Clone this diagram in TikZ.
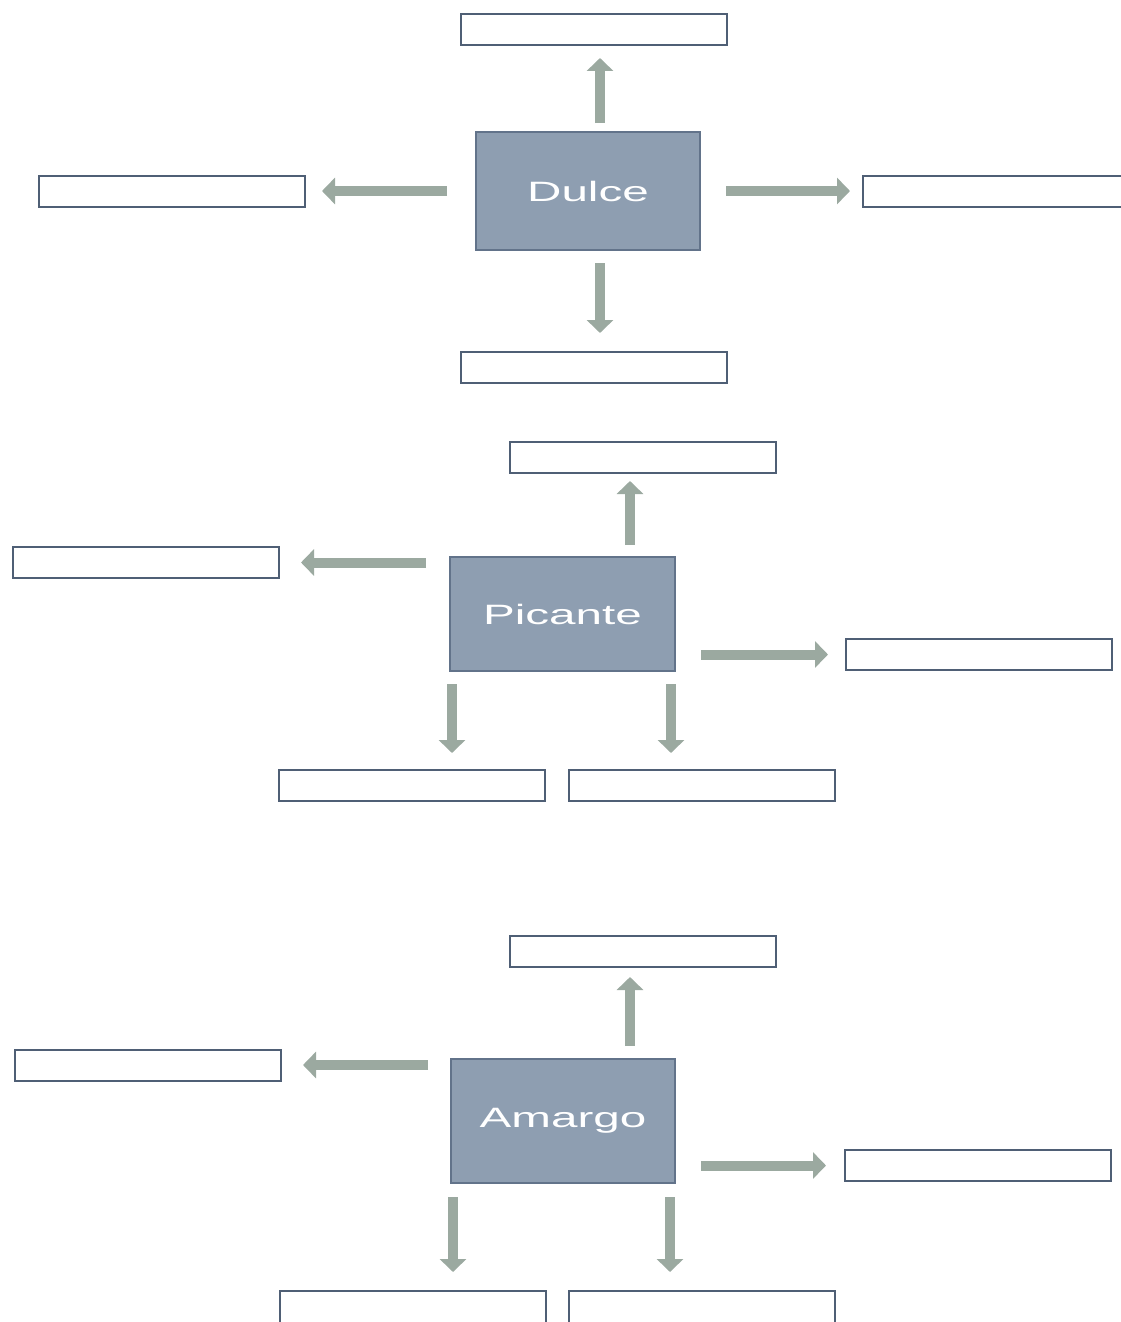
\documentclass[tikz,border=0pt]{standalone}
\usepackage{fontspec}
\newfontfamily\boxfont[FakeStretch=1.7]{Liberation Sans}
\usetikzlibrary{arrows.meta,positioning}

\definecolor{tastefill}{HTML}{8E9EB1}
\definecolor{tasteline}{HTML}{62738A}
\definecolor{slotline}{HTML}{4F5F75}
\definecolor{arrowgreen}{HTML}{9BA9A0}

\begin{document}
\begin{tikzpicture}[
  x=1pt, y=-1pt,
  taste/.style={draw=tasteline, fill=tastefill, line width=2pt, inner sep=0pt, outer sep=0pt,
                text=white, font=\boxfont\fontsize{28}{32}\selectfont},
  slot/.style={draw=slotline, fill=white, line width=2pt, inner sep=0pt, outer sep=0pt,
               minimum width=266pt, minimum height=31pt},
  arr/.style={draw=arrowgreen, line width=10pt, -{Triangle[width=26pt,length=13pt]}},
]
\useasboundingbox (0,0) rectangle (1121,1322);

% ---- Dulce -------------------------------------------------------------------
\node[taste, minimum width=224pt, minimum height=118pt] (dulce) at (588,191) {Dulce};
\node[slot, above=87pt of dulce, xshift=6pt]  (dN) {};
\node[slot, left=171pt of dulce]              (dW) {};
\node[slot, right=163pt of dulce]             (dE) {};
\node[slot, below=102pt of dulce, xshift=6pt] (dS) {};

\draw[arr, shorten <=9pt,  shorten >=13pt] ([xshift=12pt]dulce.north) -- ([xshift=6pt]dN.south);
\draw[arr, shorten <=29pt, shorten >=17pt] (dulce.west) -- (dW.east);
\draw[arr, shorten <=26pt, shorten >=13pt] (dulce.east) -- (dulce.east -| dE.west);
\draw[arr, shorten <=13pt, shorten >=19pt] ([xshift=12pt]dulce.south) -- ([xshift=6pt]dS.north);

% ---- Picante -----------------------------------------------------------------
\node[taste, minimum width=225pt, minimum height=114pt] (picante) at (562.5,614) {Picante};
\node[slot, above=84pt of picante, xshift=80pt]     (pN)  {};
\node[slot, left=171pt of picante, yshift=51.5pt]   (pW)  {};
\node[slot, right=171pt of picante, yshift=-40.5pt] (pE)  {};
\node[slot, below=99pt of picante, xshift=-151pt]   (pSW) {};
\node[slot, below=99pt of picante, xshift=139pt]    (pSE) {};

\coordinate (pdl) at ([xshift=2pt]picante.south west);
\coordinate (pdr) at ([xshift=-4pt]picante.south east);
\draw[arr, shorten <=12pt, shorten >=8pt]  ([xshift=67.5pt]picante.north) -- ([xshift=-12.5pt]pN.south);
\draw[arr, shorten <=24pt, shorten >=22pt] (picante.west |- pW.east) -- (pW.east);
\draw[arr, shorten <=26pt, shorten >=18pt] (picante.east |- pE.west) -- (pE.west);
\draw[arr, shorten <=13pt, shorten >=17pt] (pdl) -- (pdl |- pSW.north);
\draw[arr, shorten <=13pt, shorten >=17pt] (pdr) -- (pdr |- pSE.north);

% ---- Amargo ------------------------------------------------------------------
\node[taste, minimum width=224pt, minimum height=124pt] (amargo) at (563,1121) {Amargo};
\node[slot, above=92pt of amargo, xshift=80pt]      (aN)  {};
\node[slot, left=170pt of amargo, yshift=56pt]      (aW)  {};
\node[slot, right=170pt of amargo, yshift=-44.5pt]  (aE)  {};
% the bottom pair runs off the page
\node[slot, minimum height=44pt, below=108pt of amargo, xshift=-150.5pt] (aSW) {};
\node[slot, minimum height=44pt, below=108pt of amargo, xshift=138.5pt]  (aSE) {};

\coordinate (adl) at ([xshift=2pt]amargo.south west);
\coordinate (adr) at ([xshift=-5pt]amargo.south east);
\draw[arr, shorten <=13pt, shorten >=10pt] ([xshift=67pt]amargo.north) -- ([xshift=-13pt]aN.south);
\draw[arr, shorten <=23pt, shorten >=22pt] (amargo.west |- aW.east) -- (aW.east);
\draw[arr, shorten <=26pt, shorten >=19pt] (amargo.east |- aE.west) -- (aE.west);
\draw[arr, shorten <=14pt, shorten >=19pt] (adl) -- (adl |- aSW.north);
\draw[arr, shorten <=14pt, shorten >=19pt] (adr) -- (adr |- aSE.north);

\end{tikzpicture}
\end{document}
